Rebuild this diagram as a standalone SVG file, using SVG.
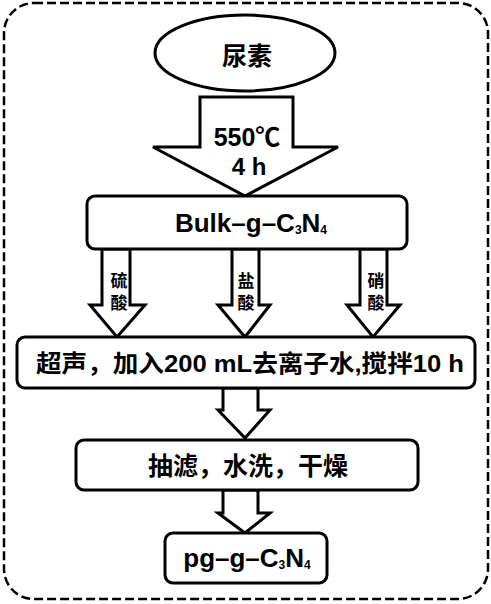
<svg xmlns="http://www.w3.org/2000/svg" width="491" height="604" viewBox="0 0 491 604">
<style>
.s{fill:#fff;stroke:#000;stroke-width:3;stroke-linejoin:miter}
.t{font-family:"Liberation Sans","Noto Sans CJK SC",sans-serif;font-weight:bold;fill:#000;text-anchor:middle;dominant-baseline:central}
.b{fill:none;stroke:#000;stroke-width:2.5;stroke-dasharray:9 4}
</style>
<rect width="491" height="604" fill="#fff"/>
<rect class="b" x="4" y="3" width="484" height="596" rx="30"/>
<g id="connectors">
<polygon class="s" points="200,97 293,97 293,147 338,147 245,196 153,147 200,147"/>
<polygon class="s" points="102,249 130,249 130,305 145,305 117,337 90,305 102,305"/>
<polygon class="s" points="232,249 259,249 259,305 270,305 245,337 218,305 232,305"/>
<polygon class="s" points="360,249 387,249 387,305 400,305 373,337 347,305 360,305"/>
<polygon class="s" points="223,388 258,388 258,410 270,410 245,438 218,410 223,410"/>
<polygon class="s" points="223,490 258,490 258,513 270,513 245,533 218,513 223,513"/>
<text class="t" x="247" y="137" font-size="25">550℃</text>
<text class="t" x="249" y="166" font-size="24">4 h</text>
<text class="t" x="119" y="281" font-size="17">硫</text>
<text class="t" x="119" y="303" font-size="17">酸</text>
<text class="t" x="246" y="281" font-size="17">盐</text>
<text class="t" x="246" y="303" font-size="17">酸</text>
<text class="t" x="376" y="281" font-size="17">硝</text>
<text class="t" x="376" y="303" font-size="17">酸</text>
</g>
<g id="urea">
<ellipse class="s" cx="245" cy="53" rx="90" ry="38"/>
<text class="t" x="247" y="56" font-size="25">尿素</text>
</g>
<g id="bulk">
<rect class="s" x="87" y="196" width="320" height="53" rx="8"/>
<text class="t" x="251" y="223" font-size="26">Bulk–g–C<tspan font-size="12" dy="7">3</tspan><tspan dy="-7">N</tspan><tspan font-size="12" dy="7">4</tspan></text>
</g>
<g id="ultrasound">
<rect class="s" x="17" y="337" width="458" height="51" rx="8"/>
<text class="t" x="250" y="363" font-size="24" textLength="428" lengthAdjust="spacingAndGlyphs">超声，加入200 mL去离子水,搅拌10 h</text>
</g>
<g id="filter">
<rect class="s" x="76" y="440" width="342" height="50" rx="8"/>
<text class="t" x="248" y="466" font-size="25">抽滤，水洗，干燥</text>
</g>
<g id="product">
<rect class="s" x="165" y="533" width="162" height="50" rx="8"/>
<text class="t" x="247" y="558" font-size="26">pg–g–C<tspan font-size="12" dy="7">3</tspan><tspan dy="-7">N</tspan><tspan font-size="12" dy="7">4</tspan></text>
</g>
</svg>
